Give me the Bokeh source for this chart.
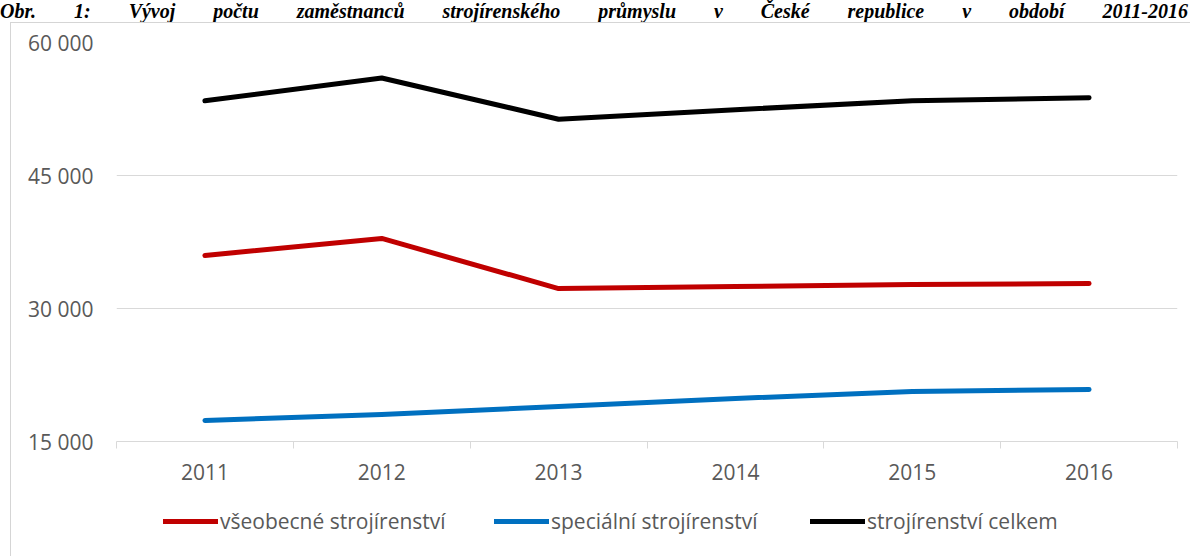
from bokeh.plotting import figure
from bokeh.models import Range1d, FixedTicker, Legend, LegendItem, Div
from bokeh.layouts import column
from bokeh.embed import file_html
from bokeh.resources import INLINE
import numpy as np

# ---- data ----
years = ["2011", "2012", "2013", "2014", "2015", "2016"]
vseobecne = [35980, 37900, 32250, 32480, 32700, 32820]
specialni = [17370, 18050, 18950, 19850, 20640, 20860]
celkem = [53420, 56000, 51350, 52420, 53420, 53760]
series_names = ["všeobecné strojírenství", "speciální strojírenství", "strojírenství celkem"]
series_colors = ["#C00000", "#0070C0", "#000000"]
y_ticks = [15000, 30000, 45000, 60000]
y_tick_labels = ["15 000", "30 000", "45 000", "60 000"]
title_text = "Obr. 1: Vývoj počtu zaměstnanců strojírenského průmyslu v České republice v období 2011-2016"

# ---- layout (screen px) ----
PAGE_W, PAGE_H = 1192, 557
BOX_L = 10
CX = BOX_L + 1          # canvas left (after 1px border)
W = 1180
TITLE_H = 22
FRAME_L, FRAME_R, FRAME_T, FRAME_B = 116, 1177, 42, 441
MAIN_BOTTOM = 500
MAIN_H = MAIN_BOTTOM - TITLE_H - 1
LEG_H = PAGE_H - MAIN_BOTTOM
LEGEND_X = [163, 494, 810]
BORDER = "1px solid #d5d5d5"
LINE_W = 5

title = Div(text=('<div style="width:%dpx;text-align:justify;text-align-last:justify;'
                  'font-family:\'Liberation Serif\',serif;font-size:20px;font-weight:bold;'
                  'font-style:italic;color:#000;line-height:%dpx;white-space:normal">%s</div>')
                 % (PAGE_W - 4, TITLE_H, title_text),
            width=PAGE_W - 4, height=TITLE_H, margin=0)

p = figure(width=W, height=MAIN_H, output_backend="svg", toolbar_location=None,
           x_range=Range1d(0, len(years)), y_range=Range1d(y_ticks[0], y_ticks[-1]),
           min_border_left=FRAME_L - CX, min_border_right=CX + W - FRAME_R,
           min_border_top=FRAME_T - TITLE_H - 1, min_border_bottom=MAIN_BOTTOM - FRAME_B,
           margin=(0, 0, 0, BOX_L),
           styles={"border-left": BORDER, "border-top": BORDER})
p.outline_line_color = None
p.background_fill_color = "white"
p.border_fill_color = "white"

xs = list(np.arange(len(years)) + 0.5)

# x axis
p.xaxis.ticker = FixedTicker(ticks=xs, minor_ticks=list(range(len(years) + 1)))
p.xaxis.major_label_overrides = {float(x): y for x, y in zip(xs, years)}
p.xaxis.major_tick_out = 0
p.xaxis.major_tick_in = 0
p.xaxis.minor_tick_out = 7
p.xaxis.minor_tick_in = 0
p.xaxis.minor_tick_line_color = "#d9d9d9"
p.xaxis.axis_line_color = "#d9d9d9"
p.xaxis.major_label_text_color = "#595959"
p.xaxis.major_label_text_font = "Open Sans"
p.xaxis.major_label_text_font_size = "21px"
p.xaxis.major_label_standoff = 15
p.xgrid.visible = False

# y axis
p.yaxis.ticker = FixedTicker(ticks=y_ticks, minor_ticks=[])
p.yaxis.major_label_overrides = {t: l for t, l in zip(y_ticks, y_tick_labels)}
p.yaxis.axis_line_color = None
p.yaxis.major_tick_line_color = None
p.yaxis.major_tick_out = 0
p.yaxis.major_tick_in = 0
p.yaxis.minor_tick_line_color = None
p.yaxis.major_label_text_color = "#595959"
p.yaxis.major_label_text_font = "Open Sans"
p.yaxis.major_label_text_font_size = "21px"
p.yaxis.major_label_standoff = 23
p.ygrid.grid_line_color = "#d9d9d9"
p.ygrid.grid_line_width = 1

for vals, col in zip([vseobecne, specialni, celkem], series_colors):
    p.line(xs, vals, line_color=col, line_width=LINE_W, line_cap="round", line_join="round")

# ---- legend strip (separate canvas below the chart) ----
pl = figure(width=W, height=LEG_H, output_backend="svg", toolbar_location=None,
            x_range=Range1d(0, 1), y_range=Range1d(0, 1), x_axis_type=None, y_axis_type=None,
            min_border_left=FRAME_L - CX, min_border_right=CX + W - FRAME_R,
            min_border_top=0, min_border_bottom=0,
            margin=(0, 0, 0, BOX_L), styles={"border-left": BORDER})
pl.outline_line_color = None
pl.grid.visible = False
for name, col, lx in zip(series_names, series_colors, LEGEND_X):
    # legend key line kept outside the visible range so only the legend draws it
    r = pl.line([5, 6], [5, 5], line_color=col, line_width=LINE_W, line_cap="round")
    pl.add_layout(Legend(items=[LegendItem(label=name, renderers=[r])],
                         location=(lx - FRAME_L, 21), glyph_width=55, glyph_height=20,
                         label_standoff=2, padding=0, margin=0, border_line_color=None,
                         background_fill_alpha=0, label_text_font="Open Sans",
                         label_text_font_size="21px", label_text_color="#595959",
                         label_height=20))

layout = column(title, p, pl, spacing=0)

open("out.html", "w").write(file_html(layout, INLINE))
